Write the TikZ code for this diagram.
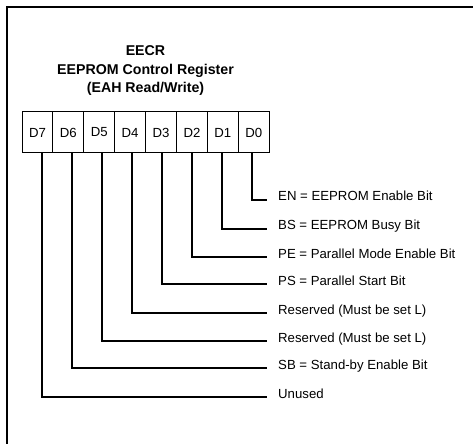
\documentclass[tikz,border=0pt]{standalone}
\usepackage{fontspec}
\setmainfont{Liberation Sans}
\begin{document}
\begin{tikzpicture}[x=1bp,y=-1bp,
  cell/.style={draw,line width=1bp,minimum width=30.9bp,minimum height=41bp,inner sep=0pt,font=\fontsize{13.2bp}{15bp}\selectfont},
  lbl/.style={anchor=base west,inner sep=0pt,font=\fontsize{13.2bp}{15bp}\selectfont},
  ttl/.style={anchor=base,inner sep=0pt,font=\bfseries\fontsize{14.2bp}{17bp}\selectfont},
  wire/.style={line width=1.3bp},
  frame/.style={line width=1.5bp}]
\useasboundingbox (0,0) rectangle (473,444);
\fill[white] (0,0) rectangle (473,444);
\draw[frame] (7,444) -- (7,7) -- (473,7);
% title
\node[ttl] (t1) at (145.5,55.5) {EECR};
\node[ttl] (t2) at (145.5,74.5) {EEPROM Control Register};
\node[ttl] (t3) at (145.5,93) {(EAH Read/Write)};
% register cells
\foreach \b [count=\i from 0] in {7,6,5,4,3,2,1,0}
  \node[cell] (c\b) at ({22+30.9*(\i+0.5)},132.5) {D\b};
% bit descriptions and wires
\foreach \b/\yy/\xl/\txt in {
  0/200/252/{EN = EEPROM Enable Bit},
  1/229/222/{BS = EEPROM Busy Bit},
  2/257/192/{PE = Parallel Mode Enable Bit},
  3/284/162/{PS = Parallel Start Bit},
  4/313/132/{Reserved (Must be set L)},
  5/341/102/{Reserved (Must be set L)},
  6/368/72/{SB = Stand-by Enable Bit},
  7/397/42/{Unused}}{
  \node[lbl] (l\b) at (278,{\yy+1}) {\txt};
  \coordinate (x\b) at (\xl,0);
  \draw[wire] (c\b.south -| x\b) |- ([shift={(-11bp,1bp)}]l\b.base west);
}
\end{tikzpicture}
\end{document}
